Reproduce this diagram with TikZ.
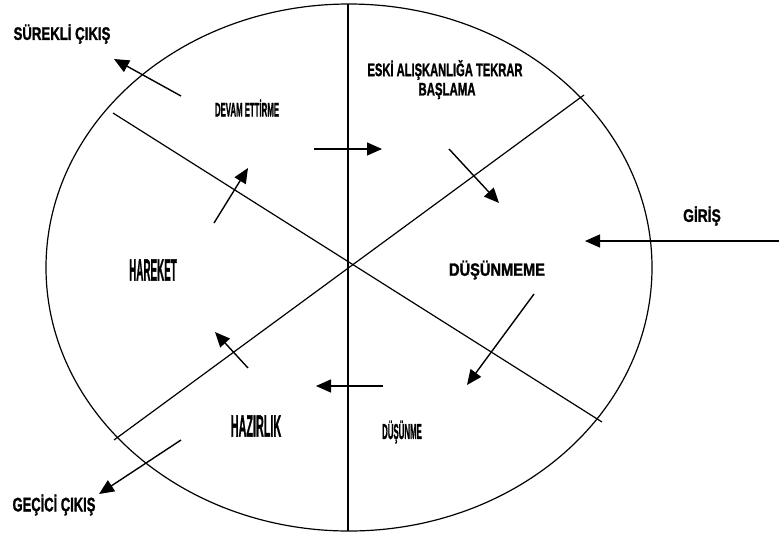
\documentclass[tikz,border=0pt]{standalone}
\usepackage{fontspec}
\setmainfont{Liberation Sans}
\newfontfamily\heavyfont{Liberation Sans Bold}[FakeBold=1.6]
\usetikzlibrary{arrows.meta}
\newcommand{\stagetext}[3]{\scalebox{#1}[#2]{\heavyfont\fontsize{12pt}{12pt}\selectfont #3}}
\tikzset{
  frame/.style={line width=1.2pt, black},
  flow/.style={line width=1.4pt, black, -{Triangle[length=15pt,width=13pt]}},
  lbl/.style={inner sep=0pt, anchor=center}
}
\begin{document}
\begin{tikzpicture}[x=1pt,y=-1pt]
\useasboundingbox (0,0) rectangle (779,539);
% ellipse and dividing lines
\draw[frame] (349,267.5) ellipse [x radius=303, y radius=263.5];
\coordinate (vt) at (348,4);
\coordinate (vb) at (348,531);
\coordinate (nw) at (113,113);
\coordinate (se) at (602,422);
\coordinate (ne) at (584,95);
\coordinate (sw) at (114,440);
\draw[frame] (vt) -- (vb);
\draw[frame] (nw) -- (se);
\draw[frame] (sw) -- (ne);
% labels
\node[lbl] (surekli) at (62,34) {\stagetext{1.1}{1.51}{SÜREKLİ ÇIKIŞ}};
\node[lbl] (devam) at (247,108) {\stagetext{0.65}{1.63}{DEVAM ETTİRME}};
\node[lbl] (eski) at (445,70) {\stagetext{0.93}{1.51}{ESKİ ALIŞKANLIĞA TEKRAR}};
\node[lbl] (baslama) at (447,91) {\stagetext{0.95}{1.51}{BAŞLAMA}};
\node[lbl] (dusunmeme) at (497,270) {\stagetext{1.22}{1.48}{DÜŞÜNMEME}};
\node[lbl] (giris) at (702,216) {\stagetext{1.15}{1.5}{GİRİŞ}};
\node[lbl] (hareket) at (153,270) {\stagetext{0.82}{2.56}{HAREKET}};
\node[lbl] (hazirlik) at (256,426) {\stagetext{0.9}{2.56}{HAZIRLIK}};
\node[lbl] (dusunme) at (402,432) {\stagetext{0.655}{1.8}{DÜŞÜNME}};
\node[lbl] (gecici) at (54,505) {\stagetext{1.08}{1.63}{GEÇİCİ ÇIKIŞ}};
% arrow end points
\coordinate (a1s) at (181,96);   \coordinate (a1e) at (114,59);
\coordinate (a2s) at (314,149);  \coordinate (a2e) at (382,149);
\coordinate (a3s) at (449,149);  \coordinate (a3e) at (499,203);
\coordinate (a4s) at (779,241);  \coordinate (a4e) at (585,241);
\coordinate (a5s) at (534,294);  \coordinate (a5e) at (467,385);
\coordinate (a6s) at (383,386);  \coordinate (a6e) at (316,386);
\coordinate (a7s) at (248,368);  \coordinate (a7e) at (215,332);
\coordinate (a8s) at (214,223);  \coordinate (a8e) at (248,168);
\coordinate (a9s) at (181,440);  \coordinate (a9e) at (99,494);
\draw[flow] (a1s) -- (a1e);
\draw[flow] (a2s) -- (a2e);
\draw[flow] (a3s) -- (a3e);
\draw[flow] (a4s) -- (a4e);
\draw[flow] (a5s) -- (a5e);
\draw[flow] (a6s) -- (a6e);
\draw[flow] (a7s) -- (a7e);
\draw[flow] (a8s) -- (a8e);
\draw[flow] (a9s) -- (a9e);
\end{tikzpicture}
\end{document}
